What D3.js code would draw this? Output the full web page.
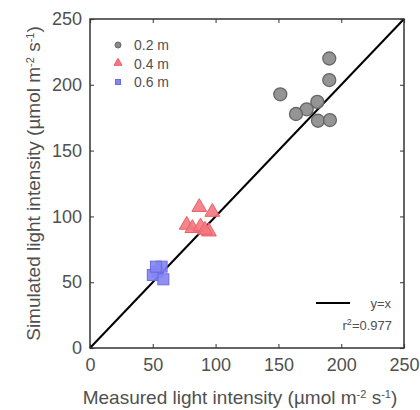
<!DOCTYPE html>
<html>
<head>
<meta charset="utf-8">
<script src="https://cdn.jsdelivr.net/npm/d3@7"></script>
<style>
  body { margin: 0; background: #fff; }
  svg { font-family: "Liberation Sans", Arial, sans-serif; }
</style>
</head>
<body>
<script>
// measured (x) vs simulated (y) light intensity, by depth
var measured02 = [190.5, 190.5, 151.5, 181, 172.5, 164, 181.5, 191];
var simulated02 = [220, 203.6, 192.8, 187, 181.4, 177.8, 172.7, 173.2];
var measured04 = [87, 97.4, 77, 81.5, 88, 94.7, 91.5];
var simulated04 = [107, 103.3, 93.5, 91, 92.2, 88.4, 89.7];
var measured06 = [53.6, 50, 58.4, 57, 52.5];
var simulated06 = [58, 55.5, 52.2, 61.8, 61.8];
var ticks = [0, 50, 100, 150, 200, 250];
var legendLabels = ["0.2 m", "0.4 m", "0.6 m"];

var width = 420, height = 410;
var margin = {left: 90, right: 16, top: 19, bottom: 62};

var svg = d3.select('body').append('svg')
  .attr('width', width)
  .attr('height', height);

var x = d3.scaleLinear().domain([0, 250]).range([margin.left, width - margin.right]);
var y = d3.scaleLinear().domain([0, 250]).range([height - margin.bottom, margin.top]);

var textColor = '#505050';

// inward ticks on all four sides
var g = svg.append('g');
g.append('g').attr('transform', 'translate(0,' + y(0) + ')')
  .call(d3.axisBottom(x).tickValues(ticks).tickSize(-4).tickPadding(10));
g.append('g').attr('transform', 'translate(' + x(0) + ',0)')
  .call(d3.axisLeft(y).tickValues(ticks).tickSize(-4).tickPadding(8));
g.append('g').attr('transform', 'translate(0,' + y(250) + ')')
  .call(d3.axisTop(x).tickValues(ticks).tickSize(-4).tickFormat(''));
g.append('g').attr('transform', 'translate(' + x(250) + ',0)')
  .call(d3.axisRight(y).tickValues(ticks).tickSize(-4).tickFormat(''));
g.selectAll('.domain').remove();
g.selectAll('.tick line').attr('stroke', '#555').attr('stroke-width', 1.2);
g.selectAll('.tick text')
  .style('font-size', '18px')
  .attr('fill', textColor);

// y = x line
svg.append('line')
  .attr('x1', x(0)).attr('y1', y(0))
  .attr('x2', x(250)).attr('y2', y(250))
  .attr('stroke', '#000').attr('stroke-width', 2);

function pairs(xs, ys) {
  return xs.map(function(v, i) { return {x: v, y: ys[i]}; });
}

svg.selectAll('.dot02').data(pairs(measured02, simulated02)).enter()
  .append('circle')
  .attr('class', 'dot02')
  .attr('cx', function(d) { return x(d.x); })
  .attr('cy', function(d) { return y(d.y); })
  .attr('r', 6.5)
  .attr('fill', '#8a8a8a')
  .attr('fill-opacity', 0.9)
  .attr('stroke', '#666')
  .attr('stroke-width', 1.3);

var tri = d3.symbol().type(d3.symbolTriangle).size(95);
svg.selectAll('.dot04').data(pairs(measured04, simulated04)).enter()
  .append('path')
  .attr('class', 'dot04')
  .attr('d', tri)
  .attr('transform', function(d) { return 'translate(' + x(d.x) + ',' + y(d.y) + ')'; })
  .attr('fill', '#f47880')
  .attr('fill-opacity', 0.9)
  .attr('stroke', '#e8606a')
  .attr('stroke-width', 1);

svg.selectAll('.dot06').data(pairs(measured06, simulated06)).enter()
  .append('rect')
  .attr('class', 'dot06')
  .attr('x', function(d) { return x(d.x) - 5.5; })
  .attr('y', function(d) { return y(d.y) - 5.5; })
  .attr('width', 11).attr('height', 11)
  .attr('fill', '#8484f2')
  .attr('fill-opacity', 0.9)
  .attr('stroke', '#6a6ae6')
  .attr('stroke-width', 1);

// frame
svg.append('rect')
  .attr('x', x(0)).attr('y', y(250))
  .attr('width', x(250) - x(0)).attr('height', y(0) - y(250))
  .attr('fill', 'none')
  .attr('stroke', '#333')
  .attr('stroke-width', 1.5);

// legend
var leg = svg.append('g').attr('transform', 'translate(118,45)');
leg.append('circle').attr('cx', 0).attr('cy', 0).attr('r', 3)
  .attr('fill', '#8a8a8a').attr('stroke', '#666');
leg.append('path').attr('d', d3.symbol().type(d3.symbolTriangle).size(28))
  .attr('transform', 'translate(0,18)')
  .attr('fill', '#f47880').attr('stroke', '#e8606a');
leg.append('rect').attr('x', -2.5).attr('y', 34.5).attr('width', 5).attr('height', 5)
  .attr('fill', '#8484f2').attr('stroke', '#6a6ae6');
leg.selectAll('text').data(legendLabels).enter().append('text')
  .attr('x', 16)
  .attr('y', function(d, i) { return i * 18.5 + 5; })
  .style('font-size', '14px')
  .attr('fill', textColor)
  .text(function(d) { return d; });

// y=x key + r2
svg.append('line')
  .attr('x1', 316).attr('x2', 350).attr('y1', 303).attr('y2', 303)
  .attr('stroke', '#000').attr('stroke-width', 2);
svg.append('text').attr('x', 391).attr('y', 308)
  .attr('text-anchor', 'end')
  .style('font-size', '13px').attr('fill', textColor)
  .text('y=x');
var r2 = svg.append('text').attr('x', 392).attr('y', 330)
  .attr('text-anchor', 'end')
  .style('font-size', '13px').attr('fill', textColor);
r2.append('tspan').text('r');
r2.append('tspan').attr('dy', -5).style('font-size', '9px').text('2');
r2.append('tspan').attr('dy', 5).text('=0.977');

// axis titles
function unitTitle(sel, label) {
  sel.append('tspan').text(label + ' (\u00b5mol m');
  sel.append('tspan').attr('dy', -6).style('font-size', '11px').text('-2');
  sel.append('tspan').attr('dy', 6).text(' s');
  sel.append('tspan').attr('dy', -6).style('font-size', '11px').text('-1');
  sel.append('tspan').attr('dy', 6).text(')');
}
var xt = svg.append('text')
  .attr('x', 240).attr('y', 404)
  .attr('text-anchor', 'middle')
  .style('font-size', '19px').attr('fill', textColor);
unitTitle(xt, 'Measured light intensity');

var yt = svg.append('text')
  .attr('transform', 'translate(40,' + ((y(0) + y(250)) / 2) + ') rotate(-90)')
  .attr('text-anchor', 'middle')
  .style('font-size', '19px').attr('fill', textColor);
unitTitle(yt, 'Simulated light intensity');
</script>
</body>
</html>
